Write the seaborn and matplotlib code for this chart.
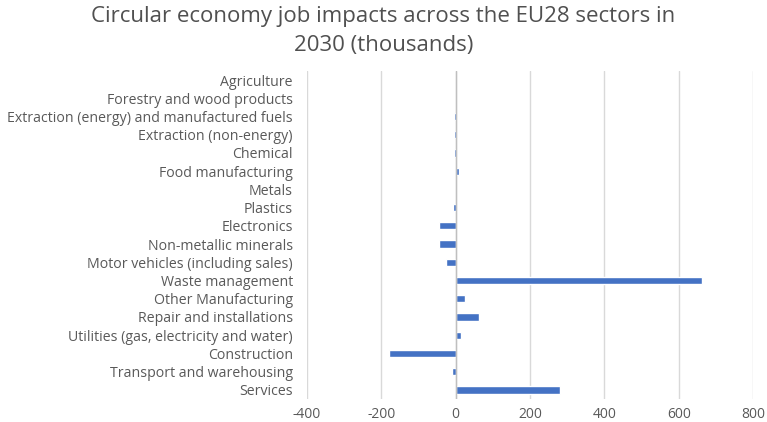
import matplotlib
matplotlib.use("Agg")
import matplotlib.pyplot as plt
import seaborn as sns
import pandas as pd

sectors = [
    "Agriculture",
    "Forestry and wood products",
    "Extraction (energy) and manufactured fuels",
    "Extraction (non-energy)",
    "Chemical",
    "Food manufacturing",
    "Metals",
    "Plastics",
    "Electronics",
    "Non-metallic minerals",
    "Motor vehicles (including sales)",
    "Waste management",
    "Other Manufacturing",
    "Repair and installations",
    "Utilities (gas, electricity and water)",
    "Construction",
    "Transport and warehousing",
    "Services",
]
jobs = [0.5, 0, -4, -3, -3, 8, 0, -7, -45, -45, -25, 662, 25, 62, 15, -178, -9, 280]
x_ticks = [-400, -200, 0, 200, 400, 600, 800]

df = pd.DataFrame({"sector": sectors, "jobs": jobs})

sns.set_theme(style="white")
plt.rcParams["font.family"] = ["Open Sans", "DejaVu Sans"]

fig = plt.figure(figsize=(7.67, 4.22), dpi=100)
ax = fig.add_axes([0.40, 0.0545, 0.582, 0.7775])

sns.barplot(data=df, x="jobs", y="sector", orient="h", color="#4472C4",
            saturation=1, width=0.4, ax=ax)

ax.set_xlim(-400, 800)
ax.set_xticks(x_ticks)
ax.set_xticklabels([str(t) for t in x_ticks])
ax.grid(axis="x", color="#D9D9D9", linewidth=1)
ax.set_axisbelow(True)
ax.axvline(0, color="#BFBFBF", linewidth=1, zorder=1.5)
for s in ax.spines.values():
    s.set_visible(False)
ax.set_xlabel("")
ax.set_ylabel("")
ax.tick_params(axis="both", length=0, labelcolor="#595959")
ax.tick_params(axis="y", labelsize=10.2, pad=10)
ax.tick_params(axis="x", labelsize=10, pad=6)

fig.suptitle("Circular economy job impacts across the EU28 sectors in\n2030 (thousands)",
             x=0.5, y=0.985, fontsize=16, color="#505050", linespacing=1.45)

fig.savefig("out.png", dpi=100, facecolor="white")
